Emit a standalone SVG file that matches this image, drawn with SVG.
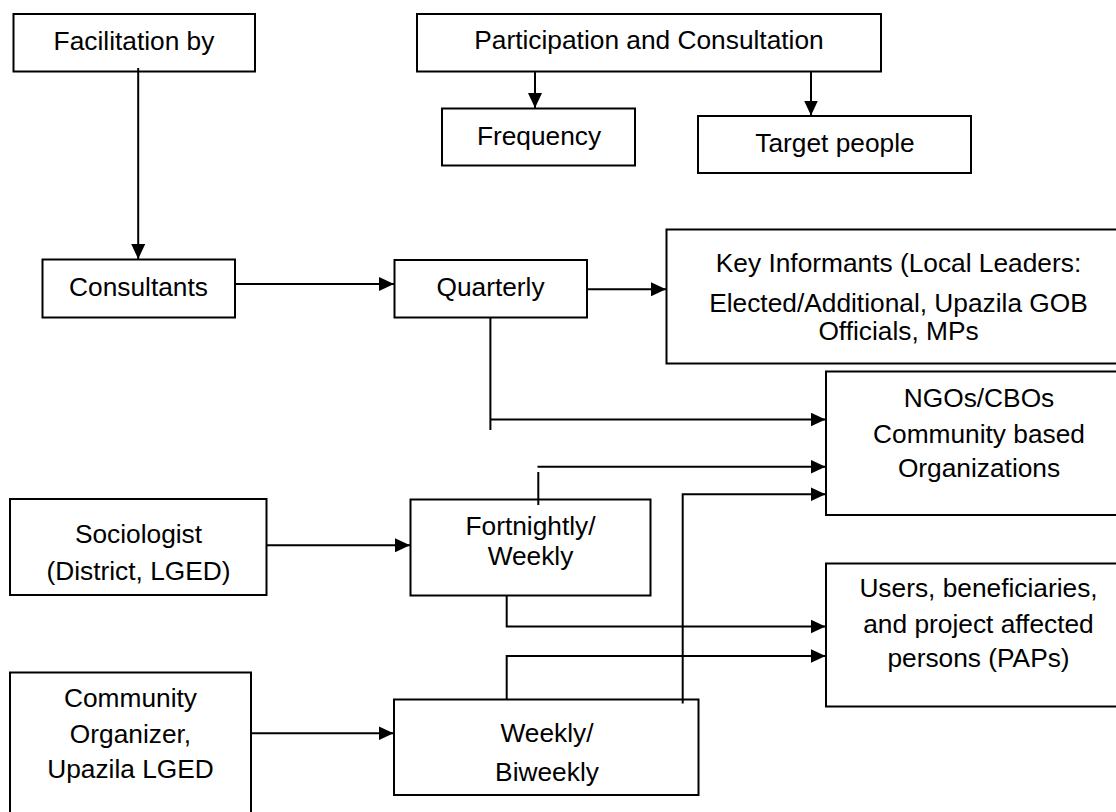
<svg xmlns="http://www.w3.org/2000/svg" width="1116" height="812" viewBox="0 0 1116 812">
<style>
.box{fill:#fff;stroke:#000;stroke-width:2}
.t{font-family:"Liberation Sans",Arial,sans-serif;font-size:26.3px;fill:#000;text-anchor:middle}
.c{fill:none;stroke:#000;stroke-width:2}
</style>
<defs>
<marker id="ah" markerUnits="userSpaceOnUse" markerWidth="15" markerHeight="14" refX="15" refY="7" orient="auto">
<path d="M0,0 L15,7 L0,14 z" fill="#000"/>
</marker>
</defs>
<rect width="1116" height="812" fill="#fff"/>
<g id="facilitation"><rect class="box" x="13.5" y="14" width="241.5" height="57.5"/><text class="t" x="134" y="50">Facilitation by</text></g>
<g id="participation"><rect class="box" x="417" y="14" width="464" height="57.5"/><text class="t" x="649" y="49">Participation and Consultation</text></g>
<g id="frequency"><rect class="box" x="442" y="108.5" width="193" height="57"/><text class="t" x="539" y="145">Frequency</text></g>
<g id="target"><rect class="box" x="698" y="116" width="273" height="57"/><text class="t" x="835" y="152">Target people</text></g>
<g id="consultants"><rect class="box" x="42.5" y="259.5" width="192.5" height="58"/><text class="t" x="138.5" y="296">Consultants</text></g>
<g id="quarterly"><rect class="box" x="394.5" y="260" width="192.5" height="57.5"/><text class="t" x="490.5" y="296">Quarterly</text></g>
<g id="key"><rect class="box" x="666.5" y="229.5" width="470" height="134"/><text class="t" x="898.5" y="272">Key Informants (Local Leaders:</text><text class="t" x="898.5" y="312">Elected/Additional, Upazila GOB</text><text class="t" x="898.5" y="340">Officials, MPs</text></g>
<g id="ngos"><rect class="box" x="826" y="371.5" width="310" height="143.5"/><text class="t" x="979" y="407">NGOs/CBOs</text><text class="t" x="979" y="443">Community based</text><text class="t" x="979" y="477">Organizations</text></g>
<g id="sociologist"><rect class="box" x="10" y="499" width="256.5" height="96"/><text class="t" x="138.5" y="543">Sociologist</text><text class="t" x="138.5" y="580">(District, LGED)</text></g>
<g id="fortnightly"><rect class="box" x="410.5" y="499.5" width="240" height="96"/><text class="t" x="530.5" y="535">Fortnightly/</text><text class="t" x="530.5" y="565">Weekly</text></g>
<g id="users"><rect class="box" x="826" y="563.5" width="310" height="143"/><text class="t" x="978.5" y="597">Users, beneficiaries,</text><text class="t" x="978.5" y="633">and project affected</text><text class="t" x="978.5" y="667">persons (PAPs)</text></g>
<g id="community"><rect class="box" x="10" y="672.5" width="241" height="160"/><text class="t" x="130.5" y="707">Community</text><text class="t" x="130.5" y="743">Organizer,</text><text class="t" x="130.5" y="778">Upazila LGED</text></g>
<g id="weekly"><rect class="box" x="394" y="699.5" width="304.5" height="95.5"/><text class="t" x="547" y="742">Weekly/</text><text class="t" x="547" y="781">Biweekly</text></g>
<g id="connectors">
<path class="c" d="M138.2,68 V259" marker-end="url(#ah)"/>
<path class="c" d="M535,71.5 V108" marker-end="url(#ah)"/>
<path class="c" d="M811,71.5 V115.5" marker-end="url(#ah)"/>
<path class="c" d="M235,284 H394" marker-end="url(#ah)"/>
<path class="c" d="M587,289.3 H666" marker-end="url(#ah)"/>
<path class="c" d="M490.4,317.5 V430"/>
<path class="c" d="M490.4,419.5 H825.5" marker-end="url(#ah)"/>
<path class="c" d="M538.3,505 V472"/>
<path class="c" d="M537.5,466.7 H825.5" marker-end="url(#ah)"/>
<path class="c" d="M682.7,703.5 V494.3 H825.5" marker-end="url(#ah)"/>
<path class="c" d="M266.5,545.3 H410" marker-end="url(#ah)"/>
<path class="c" d="M506.7,595.5 V626.5 H825.5" marker-end="url(#ah)"/>
<path class="c" d="M506.7,700 V656 H825.5" marker-end="url(#ah)"/>
<path class="c" d="M251,733.3 H393.5" marker-end="url(#ah)"/>
</g>
</svg>
